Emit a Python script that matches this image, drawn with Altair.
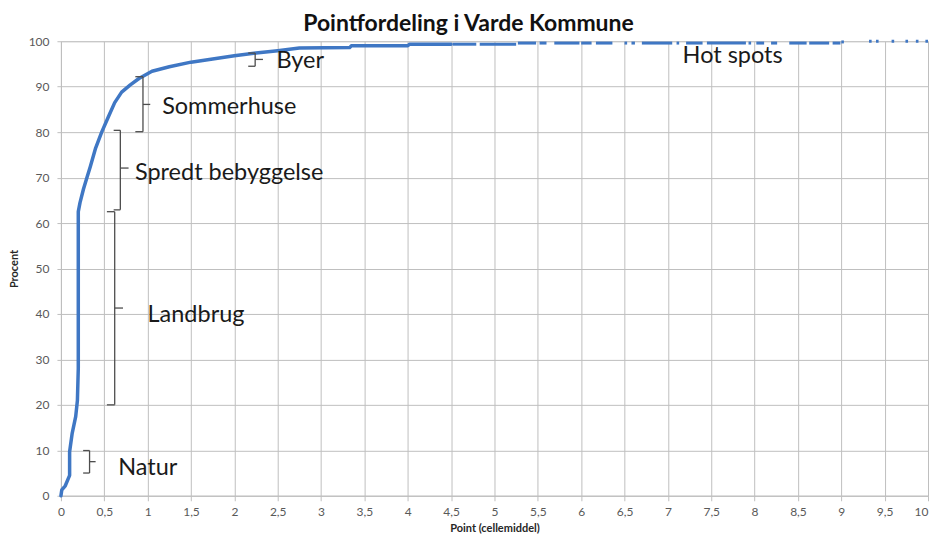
import altair as alt
import pandas as pd

# ---- data ----
curve_x = [0, 0.01, 0.05, 0.1, 0.1, 0.13, 0.17, 0.19, 0.2, 0.2, 0.22, 0.26, 0.3, 0.34,
           0.4, 0.47, 0.55, 0.62, 0.7, 0.8, 0.9, 1.05, 1.25, 1.5, 1.75, 2.0, 2.25, 2.5,
           2.75, 3.33, 3.35, 4.0, 4.02, 4.5]
curve_y = [0, 1.3, 2.2, 4.5, 9.7, 13.8, 17.4, 21, 28, 62.5, 64.5, 67.5, 70, 72.5,
           76.5, 80, 83.5, 86.5, 88.8, 90.4, 91.8, 93.4, 94.4, 95.4, 96.1, 96.8, 97.4, 97.9,
           98.5, 98.6, 99.0, 99.0, 99.35, 99.35]

# broken (sparse) tail of the curve: segment start, end, level
seg_x0 = [4.52, 4.83, 5.27, 5.52, 5.69, 6.0, 6.17, 6.5, 6.58, 6.7, 7.1, 7.21, 7.45, 7.93,
          8.02, 8.19, 8.4, 8.63, 8.9, 9.0, 9.32, 9.4, 9.58, 9.74, 9.86, 9.97]
seg_x1 = [4.79, 5.25, 5.48, 5.6, 5.98, 6.12, 6.36, 6.53, 6.62, 7.05, 7.13, 7.4, 7.9, 7.96,
          8.11, 8.26, 8.6, 8.86, 8.99, 9.03, 9.35, 9.43, 9.61, 9.77, 9.89, 10.0]
seg_y = [99.35, 99.35, 99.6, 99.6, 99.6, 99.6, 99.6, 99.6, 99.6, 99.6, 99.6, 99.6, 99.6, 99.6,
         99.6, 99.6, 99.6, 99.6, 99.6, 99.85, 100, 100, 100, 100, 100, 100]

# curly-brace annotations (data units)
brace_name = ["Natur", "Landbrug", "Spredt bebyggelse", "Sommerhuse", "Byer"]
brace_xv = [0.33, 0.62, 0.685, 0.946, 2.24]
brace_xh = [0.256, 0.53, 0.608, 0.858, 2.16]
brace_xt = [0.40, 0.716, 0.78, 1.03, 2.33]
brace_y0 = [5.0, 20.0, 62.9, 80.1, 94.5]
brace_y1 = [9.95, 62.5, 80.4, 92.2, 97.4]
brace_ym = [7.5, 41.3, 72.1, 86.1, 96.0]

label_text = ["Byer", "Sommerhuse", "Spredt bebyggelse", "Landbrug", "Natur", "Hot spots"]
label_x = [2.485, 1.167, 0.853, 0.999, 0.66, 7.17]
label_y = [94.2, 84.1, 69.45, 38.2, 4.6, 95.2]

x_ticks = [0, 0.5, 1, 1.5, 2, 2.5, 3, 3.5, 4, 4.5, 5, 5.5, 6, 6.5, 7, 7.5, 8, 8.5, 9, 9.5, 10]
y_ticks = [0, 10, 20, 30, 40, 50, 60, 70, 80, 90, 100]

# ---- tables ----
curve_df = pd.DataFrame({"x": curve_x, "y": curve_y, "idx": list(range(len(curve_x)))})
seg_df = pd.DataFrame({"x": seg_x0, "x1": seg_x1, "y": seg_y})

brace_rows = []
for n, xv, xh, xt, y0, y1, ym in zip(brace_name, brace_xv, brace_xh, brace_xt,
                                     brace_y0, brace_y1, brace_ym):
    brace_rows.append({"x": xv, "x1": xv, "y": y0, "y1": y1})
    brace_rows.append({"x": xh, "x1": xv, "y": y1, "y1": y1})
    brace_rows.append({"x": xh, "x1": xv, "y": y0, "y1": y0})
    brace_rows.append({"x": xv, "x1": xt, "y": ym, "y1": ym})
brace_df = pd.DataFrame(brace_rows)

label_df = pd.DataFrame({"t": label_text, "x": label_x, "y": label_y})

FONT = "Lato"
BLUE = "#3f77c4"
GRID = "#bfbfbf"

xscale = alt.Scale(domain=[0, 10], nice=False, zero=False)
yscale = alt.Scale(domain=[0, 100], nice=False)

x_axis = alt.Axis(values=x_ticks, labelExpr="replace(toString(datum.value), '.', ',')",
                  labelAlign={"condition": {"test": "datum.value >= 10", "value": "right"},
                              "value": "center"},
                  title="Point (cellemiddel)", grid=True, gridColor=GRID, gridWidth=1,
                  domainColor=GRID, tickColor=GRID, tickSize=5, labelFont=FONT,
                  labelFontSize=12, labelColor="#595959", labelPadding=6, labelFlush=False,
                  labelOverlap=False, titleFont=FONT, titleFontSize=11, titleFontWeight="bold",
                  titleColor="#262626", titlePadding=5)
y_axis = alt.Axis(values=y_ticks, title="Procent", grid=True, gridColor=GRID, gridWidth=1,
                  domainColor=GRID, tickColor=GRID, tickSize=4, labelFont=FONT,
                  labelFontSize=12, labelColor="#595959", labelPadding=8, labelFlush=False,
                  titleFont=FONT, titleFontSize=11, titleFontWeight="bold",
                  titleColor="#262626", titlePadding=9)

X = alt.X("x:Q", scale=xscale, axis=x_axis, title="Point (cellemiddel)")
Y = alt.Y("y:Q", scale=yscale, axis=y_axis, title="Procent")

line = alt.Chart(curve_df).mark_line(color=BLUE, strokeWidth=3.5, strokeJoin="round",
                                     strokeCap="round").encode(
    x=X, y=Y, order=alt.Order("idx:Q"),
)

segs = alt.Chart(seg_df).mark_rule(color=BLUE, strokeWidth=3, strokeCap="butt").encode(
    x=X, x2="x1:Q", y=Y,
)

braces = alt.Chart(brace_df).mark_rule(color="#4d4d4d", strokeWidth=1.3).encode(
    x=X, x2="x1:Q", y=Y, y2="y1:Q",
)

labels = alt.Chart(label_df).mark_text(font=FONT, fontSize=23.5, color="#1a1a1a",
                                       align="left", baseline="alphabetic").encode(
    x=X, y=Y, text="t:N",
)

chart = alt.layer(line, segs, braces, labels).properties(
    width=868, height=455,
    padding={"left": 0, "top": 5, "right": 0, "bottom": 0},
    title=alt.TitleParams("Pointfordeling i Varde Kommune", font=FONT, fontSize=23,
                          fontWeight="bold", color="#111111", anchor="middle", dx=-26,
                          offset=-1),
).configure_view(stroke=None).configure(background="white")

chart.save("out.html", embed_options={"renderer": "svg", "actions": False})
